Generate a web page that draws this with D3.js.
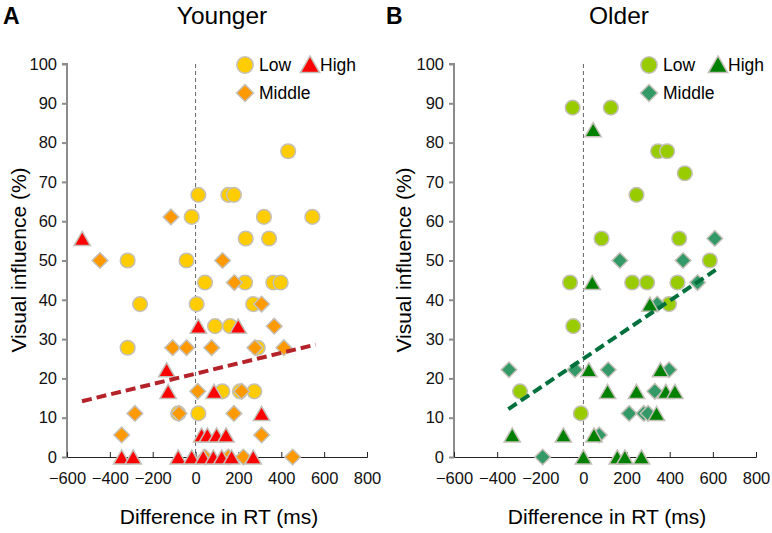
<!DOCTYPE html>
<html>
<head>
<meta charset="utf-8">
<script src="https://cdn.jsdelivr.net/npm/d3@7"></script>
<style>
  body { margin: 0; background: #fff; }
  svg { display: block; font-family: "Liberation Sans", Arial, sans-serif; }
  .axisY path, .axisY line { stroke: #8c8c8c; stroke-width: 2; }
  .axisX path, .axisX line { stroke: #222; stroke-width: 1; }
  .tick text { font-size: 16.5px; fill: #111; }
</style>
</head>
<body>
<svg id="chart" width="772" height="533"></svg>
<script>
// [RT difference (ms), visual influence (%)]
var youngLow = [[432, 77.8], [13, 66.7], [153, 66.7], [179, 66.7], [-18, 61.1], [319, 61.1], [545, 61.1],
  [234, 55.6], [343, 55.6], [-317, 50], [-42, 50], [44, 44.4], [231, 44.4], [363, 44.4], [397, 44.4],
  [-259, 38.9], [5, 38.9], [269, 38.9], [91, 33.3], [161, 33.3], [-317, 27.8], [290, 27.8],
  [125, 16.7], [207, 16.7], [274, 16.7], [-81, 11.1], [13, 11.1]];
var youngMiddle = [[-115, 61.1], [-446, 50], [126, 50], [181, 44.4], [308, 38.9], [367, 33.3],
  [-107, 27.8], [-42, 27.8], [75, 27.8], [277, 27.8], [412, 27.8], [10, 16.7], [215, 16.7],
  [-283, 11.1], [-77, 11.1], [179, 11.1], [-345, 5.6], [308, 5.6], [44, 0], [153, 0], [223, 0], [453, 0]];
var youngHigh = [[-529, 55.6], [13, 33.3], [199, 33.3], [-135, 22.2], [-128, 16.7], [86, 16.7], [308, 11.1],
  [28, 5.6], [55, 5.6], [98, 5.6], [142, 5.6], [-345, 0], [-291, 0], [-81, 0], [-18, 0], [36, 0],
  [83, 0], [122, 0], [168, 0], [269, 0]];
var youngFit = [[-530, 14.2], [560, 28.6]];

var oldLow = [[-50, 88.9], [127, 88.9], [346, 77.8], [388, 77.8], [470, 72.2], [246, 66.7], [84, 55.6],
  [444, 55.6], [586, 50], [-62, 44.4], [226, 44.4], [295, 44.4], [436, 44.4], [397, 38.9],
  [-47, 33.3], [-294, 16.7], [-12, 11.1]];
var oldMiddle = [[609, 55.6], [169, 50], [462, 50], [529, 44.4], [342, 38.9], [-345, 22.2], [-39, 22.2],
  [115, 22.2], [397, 22.2], [331, 16.7], [212, 11.1], [280, 11.1], [300, 11.1], [73, 5.6], [-189, 0]];
var oldHigh = [[45, 83.3], [41, 44.4], [308, 38.9], [25, 22.2], [357, 22.2], [112, 16.7], [246, 16.7],
  [382, 16.7], [424, 16.7], [339, 11.1], [-330, 5.6], [-93, 5.6], [49, 5.6], [0, 0], [157, 0], [192, 0], [269, 0]];
var oldFit = [[-348, 12.2], [613, 47.6]];

var xTicks = [-600, -400, -200, 0, 200, 400, 600, 800],
    yTicks = [0, 10, 20, 30, 40, 50, 60, 70, 80, 90, 100],
    groupNames = ["Low", "Middle", "High"];

var svg = d3.select("#chart");

var circleSym = d3.symbol().type(d3.symbolCircle).size(170),
    diamondSym = d3.symbol().type(d3.symbolSquare).size(122),
    triSize = 115,
    triSym = d3.symbol().type(d3.symbolTriangle).size(triSize),
    triShift = Math.sqrt(triSize / (3 * Math.sqrt(3))) / 2;

function drawMarks(g, data, kind, fill, x, y) {
    var sel = g.append("g").selectAll("path")
        .data(data)
        .enter()
        .append("path")
        .attr("fill", fill)
        .attr("stroke", "#c4c0b8")
        .attr("stroke-width", 1.5);
    if (kind == "circle") {
        sel.attr("d", circleSym)
            .attr("transform", function(d) { return "translate(" + x(d[0]) + "," + y(d[1]) + ")"; });
    } else if (kind == "diamond") {
        sel.attr("d", diamondSym)
            .attr("transform", function(d) { return "translate(" + x(d[0]) + "," + y(d[1]) + ") rotate(45)"; });
    } else {
        sel.attr("d", triSym)
            .attr("transform", function(d) { return "translate(" + x(d[0]) + "," + (y(d[1]) + triShift) + ")"; });
    }
}

function drawPanel(p) {
    var g = svg.append("g"),
        x = d3.scaleLinear().domain([-600, 800]).range([p.left, p.right]),
        y = d3.scaleLinear().domain([0, 100]).range([457, 64]);

    // letter + title
    g.append("text")
        .attr("x", p.letterX).attr("y", 24)
        .style("font-size", "23px").style("font-weight", "bold")
        .text(p.letter);
    g.append("text")
        .attr("x", p.titleX).attr("y", 24)
        .attr("text-anchor", "middle")
        .style("font-size", "24.5px")
        .text(p.title);

    // zero line
    g.append("line")
        .attr("x1", x(0)).attr("x2", x(0))
        .attr("y1", y(100)).attr("y2", y(0))
        .attr("stroke", "#666")
        .attr("stroke-width", 1)
        .attr("stroke-dasharray", "4,3");

    g.append("g")
        .attr("class", "axisY")
        .attr("transform", "translate(" + p.left + ",0)")
        .call(d3.axisLeft(y).tickValues(yTicks).tickSize(5).tickPadding(5));

    g.append("g")
        .attr("class", "axisX")
        .attr("transform", "translate(0," + y(0) + ")")
        .call(d3.axisBottom(x).tickValues(xTicks).tickSize(-5).tickPadding(15));

    g.select(".axisY .domain").attr("d", "M-5," + y(100) + "H0V" + y(0));

    // axis titles
    g.append("text")
        .attr("transform", "translate(" + p.ylabX + ",260) rotate(-90)")
        .attr("text-anchor", "middle")
        .style("font-size", "21px")
        .text("Visual influence (%)");
    g.append("text")
        .attr("x", (p.left + p.right) / 2 + 2).attr("y", 524)
        .attr("text-anchor", "middle")
        .style("font-size", "21px")
        .text("Difference in RT (ms)");

    drawMarks(g, p.low, "circle", p.colors[0], x, y);
    drawMarks(g, p.middle, "diamond", p.colors[1], x, y);
    drawMarks(g, p.high, "triangle", p.colors[2], x, y);

    g.append("path")
        .datum(p.fit)
        .attr("fill", "none")
        .attr("stroke", p.fitColor)
        .attr("stroke-width", 4)
        .attr("stroke-dasharray", "10,5")
        .attr("d", d3.line().x(function(d) { return x(d[0]); }).y(function(d) { return y(d[1]); }));

    // legend
    var lg = g.append("g").attr("transform", "translate(" + p.legX + ",65)");
    lg.append("path").attr("d", d3.symbol().type(d3.symbolCircle).size(210))
        .attr("fill", p.colors[0]).attr("stroke", "#c4c0b8").attr("stroke-width", 1.5);
    lg.append("text").attr("x", 14).attr("y", 6).style("font-size", "17.5px").text(groupNames[0]);
    lg.append("path").attr("d", d3.symbol().type(d3.symbolTriangle).size(160))
        .attr("transform", "translate(" + p.legTri + ",2)")
        .attr("fill", p.colors[2]).attr("stroke", "#c4c0b8").attr("stroke-width", 1.5);
    lg.append("text").attr("x", p.legTri + 10).attr("y", 6).style("font-size", "17.5px").text(groupNames[2]);
    lg.append("path").attr("d", d3.symbol().type(d3.symbolSquare).size(145))
        .attr("transform", "translate(0,28) rotate(45)")
        .attr("fill", p.colors[1]).attr("stroke", "#c4c0b8").attr("stroke-width", 1.5);
    lg.append("text").attr("x", 14).attr("y", 34).style("font-size", "17.5px").text(groupNames[1]);
}

drawPanel({
    letter: "A", letterX: 3, title: "Younger", titleX: 222,
    left: 67, right: 367, ylabX: 26, legX: 245, legTri: 65,
    low: youngLow, middle: youngMiddle, high: youngHigh, fit: youngFit,
    colors: ["#ffcc00", "#ff9900", "#ff0000"], fitColor: "#b5232a"
});
drawPanel({
    letter: "B", letterX: 386, title: "Older", titleX: 619,
    left: 454, right: 756, ylabX: 411, legX: 649, legTri: 69,
    low: oldLow, middle: oldMiddle, high: oldHigh, fit: oldFit,
    colors: ["#99cc00", "#339966", "#008000"], fitColor: "#00703c"
});
</script>
</body>
</html>
